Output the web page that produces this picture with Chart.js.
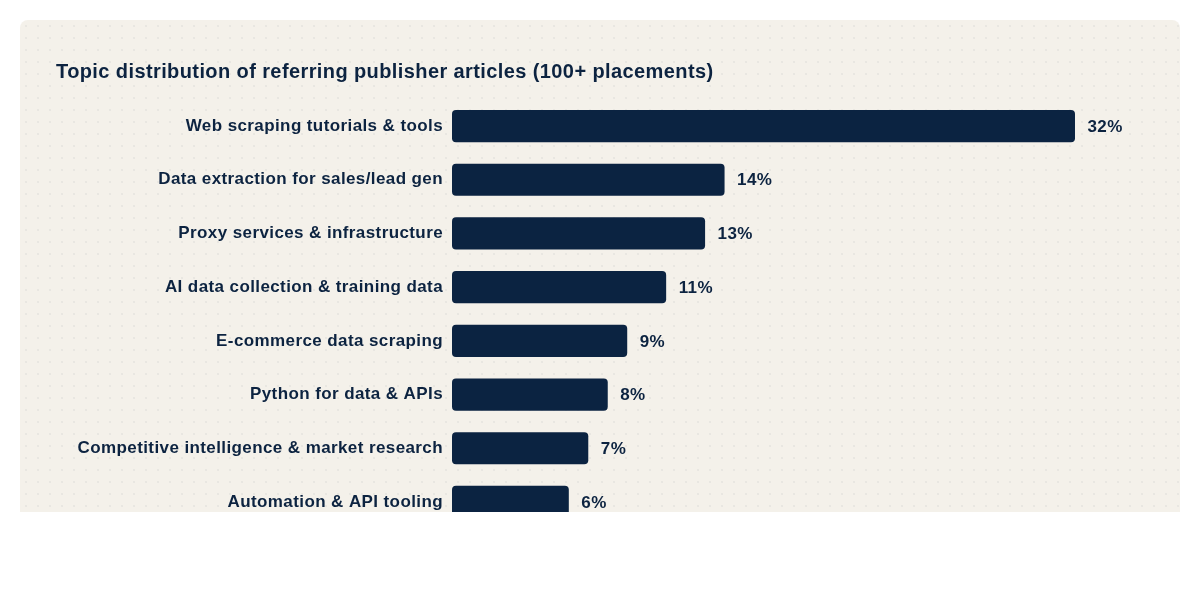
<!DOCTYPE html>
<html lang="en">
<head>
    <meta charset="UTF-8">
    <title>Topic distribution</title>
    <script src="https://cdn.jsdelivr.net/npm/chart.js"></script>
    <style>
        body { margin: 0; background: #fff; font-family: "Liberation Sans", Arial, sans-serif; }
        .recorte { position: absolute; left: 0; top: 0; width: 1200px; height: 512px; overflow: hidden; }
        .cartao {
            position: absolute; left: 20px; top: 20px; width: 1160px; height: 600px;
            background-color: #f4f1ea;
            background-image: radial-gradient(rgba(12,35,64,0.05) 1px, transparent 1px);
            background-size: 12px 12px;
            border-radius: 8px;
        }
        .area { position: absolute; left: 36px; top: 36px; width: 1088px; height: 484px; }
    </style>
</head>
<body>
    <div class="recorte">
        <div class="cartao">
            <div class="area"><canvas id="grafico"></canvas></div>
        </div>
    </div>

<script>
    const titulo = 'Topic distribution of referring publisher articles (100+ placements)'
    const topicos = [
        'Web scraping tutorials & tools',
        'Data extraction for sales/lead gen',
        'Proxy services & infrastructure',
        'AI data collection & training data',
        'E-commerce data scraping',
        'Python for data & APIs',
        'Competitive intelligence & market research',
        'Automation & API tooling'
    ]
    const percentuais = [32, 14, 13, 11, 9, 8, 7, 6]

    const corTexto = '#0c2340'
    const corBarra = '#0b2341'
    const fonte = '"Liberation Sans", Arial, sans-serif'

    // letra um pouco mais espacada, parecida com Helvetica
    const espacamento = {
        id: 'espacamento',
        beforeLayout(chart) { chart.ctx.letterSpacing = '0.4px' },
        beforeDraw(chart) { chart.ctx.letterSpacing = '0.4px' }
    }

    // escreve o valor no fim de cada barra
    const rotulosValor = {
        id: 'rotulosValor',
        afterDatasetsDraw(chart) {
            const ctx = chart.ctx
            const meta = chart.getDatasetMeta(0)
            ctx.save()
            ctx.font = 'bold 17px ' + fonte
            ctx.fillStyle = corTexto
            ctx.textAlign = 'left'
            ctx.textBaseline = 'middle'
            meta.data.forEach((barra, i) => {
                ctx.fillText(percentuais[i] + '%', barra.x + 12.5, barra.y + 1)
            })
            ctx.restore()
        }
    }

    const config = {
        type: 'bar',
        data: {
            labels: topicos,
            datasets: [{
                data: percentuais,
                backgroundColor: corBarra,
                borderRadius: 4,
                borderSkipped: false,
                barPercentage: 0.75,
                categoryPercentage: 0.8
            }]
        },
        options: {
            indexAxis: 'y',
            responsive: true,
            maintainAspectRatio: false,
            animation: false,
            layout: { padding: { left: 0, right: 10.6, top: 0, bottom: 0 } },
            plugins: {
                legend: { display: false },
                tooltip: { enabled: false },
                title: {
                    display: true,
                    text: titulo,
                    align: 'start',
                    color: corTexto,
                    font: { family: fonte, size: 20, weight: 'bold' },
                    padding: { top: 4.8, bottom: 14.4 }
                }
            },
            scales: {
                x: {
                    display: false,
                    min: 0,
                    max: 35
                },
                y: {
                    afterFit(scale) { scale.width = 396 },
                    grid: { display: false },
                    border: { display: false },
                    ticks: {
                        color: corTexto,
                        padding: 1,
                        font: { family: fonte, size: 17, weight: 'bold' }
                    }
                }
            }
        },
        plugins: [espacamento, rotulosValor]
    }

    const meuGrafico = new Chart(document.getElementById('grafico'), config)
</script>
</body>
</html>
